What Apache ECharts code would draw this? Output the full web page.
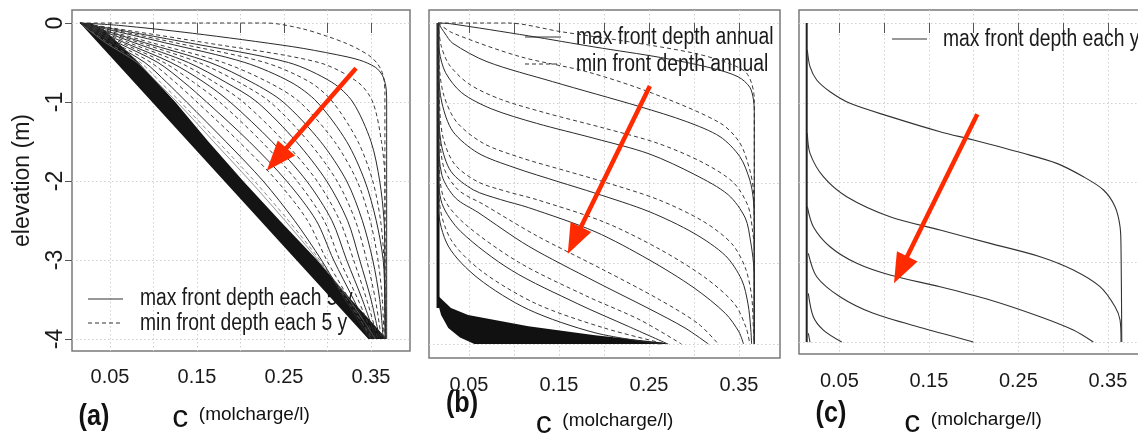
<!DOCTYPE html>
<html><head><meta charset="utf-8">
<script src="https://cdn.jsdelivr.net/npm/echarts@6/dist/echarts.min.js"></script>
<style>html,body{margin:0;padding:0;background:#fff}#chart{width:1138px;height:436px}</style>
</head><body><div id="chart"></div>
<script>
// ---------- tick values ----------
const X_TICKS = [0.05, 0.10, 0.15, 0.20, 0.25, 0.30, 0.35];
const X_LABELS = [0.05, 0.15, 0.25, 0.35];
const Y_TICKS = [0, -1, -2, -3, -4];

// ---------- panel (a): profiles every 5 y (c, elevation) ----------
const A_Z = [0, -0.25, -0.5, -0.75, -1, -1.5, -2, -2.5, -3, -3.5, -4];
const A_MIN_1 = [[0.0155,0],[0.23,0],[0.27,-0.07],[0.30,-0.17],[0.322,-0.26],[0.337,-0.34],[0.35,-0.43],[0.357,-0.51],[0.362,-0.6],[0.365,-0.72],[0.366,-0.9],[0.366,-4]];
const A_MAX_1 = [[0.0155,0],[0.06,-0.03],[0.145,-0.13],[0.26,-0.3],[0.31,-0.4],[0.337,-0.47],[0.355,-0.56],[0.363,-0.66],[0.367,-0.8],[0.368,-1],[0.368,-4]];
const A_MIN_2 = [0.0155,0.16,0.29,0.335,0.352,0.362,0.366,0.366,0.366,0.366,0.366];
const A_MAX_2 = [0.0155,0.14,0.255,0.305,0.329,0.35,0.36,0.365,0.366,0.366,0.367];
const A_MIN_3 = [0.0155,0.125,0.228,0.28,0.306,0.335,0.352,0.361,0.365,0.366,0.366];
const A_MAX_3 = [0.0155,0.113,0.205,0.258,0.288,0.322,0.343,0.356,0.364,0.366,0.367];
const A_MIN_4 = [0.0155,0.098,0.18,0.232,0.268,0.308,0.334,0.349,0.358,0.363,0.365];
const A_MAX_4 = [0.0155,0.09,0.165,0.213,0.249,0.292,0.322,0.34,0.352,0.36,0.364];
const A_MIN_5 = [0.0155,0.084,0.152,0.198,0.234,0.278,0.311,0.332,0.345,0.355,0.362];
const A_MAX_5 = [0.0155,0.078,0.14,0.183,0.219,0.264,0.299,0.323,0.337,0.35,0.36];
const A_MIN_6 = [0.0155,0.072,0.13,0.17,0.203,0.25,0.288,0.314,0.33,0.345,0.358];
const A_MAX_6 = [0.0155,0.067,0.12,0.158,0.188,0.236,0.276,0.305,0.322,0.34,0.356];
const A_MIN_7 = [0.0155,0.063,0.112,0.146,0.176,0.224,0.265,0.296,0.314,0.335,0.354];
const A_MAX_7 = [0.0155,0.059,0.105,0.135,0.161,0.21,0.253,0.287,0.307,0.33,0.352];
const A_MIN_8 = [0.0155,0.055,0.097,0.125,0.15,0.198,0.242,0.277,0.299,0.325,0.35];
const A_MAX_8 = [0.0155,0.052,0.09,0.115,0.138,0.183,0.226,0.262,0.293,0.32,0.349];
const A_LATE_1 = [0.0155,0.048,0.085,0.108,0.131,0.174,0.216,0.255,0.291,0.322,0.352];
const A_LATE_2 = [0.0155,0.045,0.081,0.104,0.127,0.169,0.211,0.251,0.289,0.325,0.355];
const A_BAND = [[0.0155,0],[0.347,-4],[0.368,-4],[0.352,-3.8],[0.327,-3.5],[0.288,-3],[0.245,-2.5],[0.203,-2],[0.163,-1.5],[0.125,-1],[0.083,-0.5],[0.045,-0.1],[0.028,0]];

// ---------- panel (b): annual profiles ----------
const B_MIN_1 = [[0.0156,0],[0.093,0],[0.152,-0.108],[0.227,-0.233],[0.301,-0.378],[0.338,-0.5],[0.357,-0.607],[0.364,-0.75],[0.367,-0.95],[0.367,-4]];
const B_MAX_1 = [[0.0156,0],[0.03,-0.01],[0.116,-0.16],[0.19,-0.3],[0.263,-0.43],[0.319,-0.56],[0.349,-0.67],[0.362,-0.8],[0.366,-0.95],[0.367,-1.1],[0.367,-4]];
const B_MIN_2 = [[0.0156,0],[0.032,-0.125],[0.107,-0.42],[0.181,-0.607],[0.254,-0.876],[0.329,-1.246],[0.351,-1.495],[0.362,-1.832],[0.366,-2.081],[0.367,-2.455],[0.367,-4]];
const B_MAX_2 = [[0.0156,0],[0.023,-0.125],[0.032,-0.253],[0.07,-0.482],[0.143,-0.731],[0.24,-1.043],[0.292,-1.23],[0.329,-1.417],[0.351,-1.666],[0.362,-1.956],[0.366,-2.206],[0.367,-2.58],[0.367,-4]];
const B_MIN_3 = [[0.0156,0],[0.019,-0.28],[0.028,-0.52],[0.05,-0.76],[0.085,-0.95],[0.135,-1.12],[0.2,-1.31],[0.26,-1.5],[0.31,-1.74],[0.344,-1.99],[0.36,-2.28],[0.365,-2.58],[0.367,-2.85],[0.367,-4]];
const B_MAX_3 = [[0.0156,0],[0.017,-0.35],[0.024,-0.62],[0.042,-0.87],[0.075,-1.07],[0.125,-1.25],[0.19,-1.44],[0.25,-1.63],[0.301,-1.89],[0.338,-2.14],[0.357,-2.43],[0.363,-2.73],[0.366,-2.98],[0.367,-3.2],[0.367,-4]];
const B_MIN_4 = [[0.0156,0],[0.017,-0.55],[0.022,-0.9],[0.036,-1.23],[0.066,-1.5],[0.108,-1.68],[0.16,-1.85],[0.2,-1.98],[0.26,-2.2],[0.31,-2.47],[0.342,-2.75],[0.357,-3.05],[0.364,-3.4],[0.366,-3.8],[0.367,-4]];
const B_MAX_4 = [[0.0156,0],[0.016,-0.6],[0.02,-1.0],[0.032,-1.35],[0.06,-1.62],[0.1,-1.8],[0.15,-1.98],[0.19,-2.12],[0.25,-2.35],[0.3,-2.62],[0.335,-2.9],[0.353,-3.2],[0.36,-3.5],[0.363,-3.8],[0.364,-4]];
const B_MIN_5 = [[0.0156,0],[0.017,-0.95],[0.021,-1.42],[0.034,-1.76],[0.06,-1.98],[0.092,-2.1],[0.125,-2.2],[0.2,-2.48],[0.262,-2.82],[0.312,-3.17],[0.345,-3.5],[0.358,-3.8],[0.362,-4]];
const B_MAX_5 = [[0.0156,0],[0.016,-1.0],[0.019,-1.5],[0.03,-1.85],[0.055,-2.08],[0.085,-2.2],[0.116,-2.3],[0.19,-2.6],[0.25,-2.95],[0.3,-3.3],[0.335,-3.62],[0.35,-3.85],[0.355,-4]];
const B_MIN_6 = [[0.0156,0],[0.017,-1.3],[0.022,-1.8],[0.038,-2.08],[0.066,-2.26],[0.125,-2.65],[0.2,-3.08],[0.262,-3.45],[0.305,-3.75],[0.327,-4]];
const B_MAX_6 = [[0.0156,0],[0.016,-1.4],[0.02,-1.9],[0.035,-2.18],[0.06,-2.36],[0.116,-2.78],[0.19,-3.22],[0.25,-3.56],[0.29,-3.8],[0.316,-4]];
const B_MIN_7 = [[0.0156,0],[0.017,-1.75],[0.022,-2.18],[0.045,-2.5],[0.105,-2.98],[0.18,-3.4],[0.24,-3.7],[0.286,-4]];
const B_MAX_7 = [[0.0156,0],[0.016,-1.8],[0.02,-2.25],[0.041,-2.6],[0.097,-3.08],[0.171,-3.5],[0.227,-3.78],[0.271,-4]];
const B_MIN_8 = [[0.0156,0],[0.017,-2.2],[0.03,-2.7],[0.065,-3.1],[0.125,-3.5],[0.2,-3.8],[0.265,-3.99]];
const B_MAX_8 = [[0.0156,0],[0.016,-2.3],[0.027,-2.78],[0.06,-3.18],[0.116,-3.57],[0.19,-3.86],[0.263,-4]];
const B_WALL = [[0.0156,0],[0.0156,-3.55]];
const B_BAND = [[0.0156,-3.4],[0.03,-3.55],[0.049,-3.64],[0.116,-3.78],[0.19,-3.89],[0.265,-3.98],[0.272,-4],[0.056,-4],[0.04,-3.92],[0.027,-3.8],[0.019,-3.64],[0.0156,-3.5]];

// ---------- panel (c): max front depth each y ----------
const C_WALL = [[0.0135,0],[0.0135,-4]];
const C_1 = [[0.0142,-0.339],[0.0172,-0.548],[0.0247,-0.715],[0.0396,-0.862],[0.0619,-1.007],[0.1066,-1.174],[0.1625,-1.363],[0.1998,-1.467],[0.2556,-1.634],[0.2929,-1.76],[0.3227,-1.928],[0.3451,-2.094],[0.358,-2.303],[0.3636,-2.554],[0.3647,-2.846],[0.3655,-4]];
const C_2 = [[0.0142,-1.383],[0.0172,-1.634],[0.0321,-1.927],[0.0582,-2.178],[0.1066,-2.429],[0.1625,-2.596],[0.2184,-2.763],[0.2743,-2.93],[0.3114,-3.097],[0.3412,-3.306],[0.358,-3.557],[0.3636,-3.724],[0.3647,-4]];
const C_3 = [[0.0142,-2.303],[0.0209,-2.554],[0.0396,-2.805],[0.0694,-3.013],[0.1066,-3.16],[0.1625,-3.307],[0.2184,-3.473],[0.2743,-3.683],[0.3114,-3.85],[0.3337,-4]];
const C_4 = [[0.0153,-2.888],[0.0247,-3.181],[0.0507,-3.432],[0.0879,-3.64],[0.1438,-3.828],[0.1997,-4]];
const C_5 = [[0.0153,-3.389],[0.0209,-3.683],[0.0321,-3.85],[0.0526,-4]];
const C_6 = [[0.0153,-3.89],[0.0172,-4]];

// ---------- red arrows (start c, start z, tip c, tip z) ----------
const ARROW_A = [0.3328, -0.573, 0.2301, -1.869];
const ARROW_B = [0.251, -0.785, 0.1597, -2.878];
const ARROW_C = [0.2041, -1.145, 0.111, -3.264];

// ---------- styling ----------
const FONT = "'Liberation Sans',Arial,sans-serif";
const INK = '#2a2a2a', DASH_INK = '#3a3a3a', RED = '#ff2a00';
const SQUEEZE = 0.84;

function zipZ(cs, zs) { return cs.map((c, i) => [c, zs[i]]); }

const series = [];
function curve(data, gi, dashed, color, width) {
  series.push({
    type: 'line', xAxisIndex: gi, yAxisIndex: gi, data: data,
    symbol: 'none', showSymbol: false, smooth: 0.3, silent: true, animation: false, z: 3,
    lineStyle: { color: color || (dashed ? DASH_INK : INK), width: width || 1, type: dashed ? [4, 3] : 'solid' }
  });
}
function polygon(points, gi, color) {
  series.push({
    type: 'custom', xAxisIndex: gi, yAxisIndex: gi, data: [[0.2, -2]], silent: true, animation: false, z: 2,
    renderItem: (params, api) => ({ type: 'polygon', shape: { points: points.map(p => api.coord(p)), smooth: 0 }, style: { fill: color } })
  });
}
function arrow(vals, gi) {
  series.push({
    type: 'custom', xAxisIndex: gi, yAxisIndex: gi, data: [vals], silent: true, animation: false, z: 10,
    renderItem: (params, api) => {
      const p1 = api.coord([api.value(0), api.value(1)]);
      const p2 = api.coord([api.value(2), api.value(3)]);
      const dx = p2[0] - p1[0], dy = p2[1] - p1[1], len = Math.hypot(dx, dy);
      const ux = dx / len, uy = dy / len, L = 30, W = 11.5;
      const bx = p2[0] - ux * L, by = p2[1] - uy * L;
      return { type: 'group', children: [
        { type: 'line', shape: { x1: p1[0], y1: p1[1], x2: bx + ux * 3, y2: by + uy * 3 }, style: { stroke: RED, lineWidth: 4.5 } },
        { type: 'polygon', shape: { points: [[p2[0], p2[1]], [bx - uy * W, by + ux * W], [bx + uy * W, by - ux * W]] }, style: { fill: RED } }
      ] };
    }
  });
}

// panel (a)
polygon(A_BAND, 0, '#141414');
curve(zipZ(A_LATE_2, A_Z), 0, false, '#777', 0.8);
curve(zipZ(A_LATE_1, A_Z), 0, true, '#666', 0.8);
curve(A_MIN_1, 0, true); curve(A_MAX_1, 0, false);
[[A_MIN_2, A_MAX_2], [A_MIN_3, A_MAX_3], [A_MIN_4, A_MAX_4], [A_MIN_5, A_MAX_5],
 [A_MIN_6, A_MAX_6], [A_MIN_7, A_MAX_7], [A_MIN_8, A_MAX_8]].forEach(([mn, mx]) => {
  curve(zipZ(mn, A_Z), 0, true); curve(zipZ(mx, A_Z), 0, false);
});
arrow(ARROW_A, 0);

// panel (b)
polygon(B_BAND, 1, '#111');
curve(B_WALL, 1, false, '#111', 3);
[[B_MIN_1, B_MAX_1], [B_MIN_2, B_MAX_2], [B_MIN_3, B_MAX_3], [B_MIN_4, B_MAX_4],
 [B_MIN_5, B_MAX_5], [B_MIN_6, B_MAX_6], [B_MIN_7, B_MAX_7], [B_MIN_8, B_MAX_8]].forEach(([mn, mx]) => {
  curve(mn, 1, true); curve(mx, 1, false);
});
arrow(ARROW_B, 1);

// panel (c)
curve(C_WALL, 2, false, '#222', 2);
[C_1, C_2, C_3, C_4, C_5, C_6].forEach(d => curve(d, 2, false, '#333', 1.1));
arrow(ARROW_C, 2);

// ---------- axes ----------
const GRIDS = [
  { left: 72, top: 10, width: 338, height: 341 },
  { left: 429, top: 10, width: 351, height: 348 },
  { left: 799, top: 10, width: 348, height: 344 }
];
const X_RANGE = [[0.00632, 0.39483], [0.00556, 0.39556], [0.0049, 0.3937]];
const Y_RANGE = [[-4.152, 0.1646], [-4.1745, 0.162], [-4.150, 0.163]];
const LABEL_MARGIN = [16, 17, 17];
const NAME_GAP = [51, 50, 53];
const splitStyle = { show: true, lineStyle: { color: '#cfcfcf', width: 1, type: [1.5, 2.5] } };

const xAxis = GRIDS.map((g, i) => ({
  type: 'value', gridIndex: i, min: X_RANGE[i][0], max: X_RANGE[i][1],
  axisLine: { show: false },
  axisTick: { show: true, length: 10, customValues: X_TICKS, lineStyle: { color: '#555', width: 1 } },
  axisLabel: { customValues: X_LABELS, formatter: v => v.toFixed(2), margin: LABEL_MARGIN[i], fontSize: 20, fontFamily: FONT, color: '#1a1a1a' },
  splitLine: splitStyle,
  name: '{c|c}{u|  (molcharge/l)}', nameLocation: 'middle', nameGap: NAME_GAP[i],
  nameTextStyle: { rich: {
    c: { fontSize: 32, fontFamily: FONT, color: '#111' },
    u: { fontSize: 19, fontFamily: FONT, color: '#111', padding: [0, 0, 6, 0] }
  } }
}));
const yAxis = GRIDS.map((g, i) => ({
  type: 'value', gridIndex: i, min: Y_RANGE[i][0], max: Y_RANGE[i][1],
  axisLine: { show: false },
  axisTick: { show: i === 0, length: 7, customValues: Y_TICKS, lineStyle: { color: '#555', width: 1 } },
  axisLabel: { show: i === 0, customValues: Y_TICKS, rotate: 90, margin: 5, fontSize: 23, fontFamily: FONT, color: '#1a1a1a', formatter: v => String(v) },
  splitLine: splitStyle,
  name: i === 0 ? 'elevation (m)' : '', nameLocation: 'middle', nameRotate: 90, nameGap: 38,
  nameTextStyle: { fontSize: 23, fontFamily: FONT, color: '#1a1a1a' }
}));

// ---------- legends & panel letters (annotation) ----------
const G = [];
function legLine(x1, x2, y, dashed) {
  G.push({ type: 'line', z: 1, shape: { x1: x1, y1: y, x2: x2, y2: y }, style: { stroke: '#333', lineWidth: 1, lineDash: dashed ? [4, 3] : null } });
}
function legText(x, y, t) {
  G.push({ type: 'text', z: 1, x: x, y: y, scaleX: SQUEEZE, style: { text: t, font: "23px " + FONT, fill: '#1a1a1a', verticalAlign: 'middle', align: 'left' } });
}
legLine(88, 123, 299, false); legText(140, 299, 'max front depth each 5 y');
legLine(88, 123, 323, true);  legText(140, 324, 'min front depth each 5 y');
legLine(525, 561, 37, false); legText(576, 38, 'max front depth annual');
legLine(525, 561, 64, true);  legText(576, 65, 'min front depth annual');
legLine(892, 927, 39, false); legText(943, 40, 'max front depth each y');
[['(a)', 94, 417], ['(b)', 462, 404], ['(c)', 831, 414]].forEach(([t, x, y]) => {
  G.push({ type: 'text', z: 1, x: x, y: y, scaleX: SQUEEZE, style: { text: t, font: "bold 30px " + FONT, fill: '#111', align: 'center', verticalAlign: 'middle' } });
});

const chart = echarts.init(document.getElementById('chart'), null, { renderer: 'canvas' });
chart.setOption({
  backgroundColor: '#fff',
  animation: false,
  grid: GRIDS.map(g => Object.assign({ show: true, borderColor: '#7a7a7a', borderWidth: 1.5, backgroundColor: 'transparent', containLabel: false, outerBoundsMode: 'none' }, g)),
  xAxis: xAxis,
  yAxis: yAxis,
  series: series,
  graphic: G
});
</script>
</body></html>
